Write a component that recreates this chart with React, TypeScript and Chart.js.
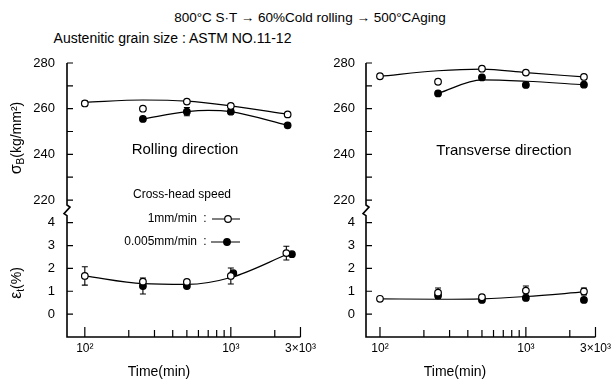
import React, { useEffect, useRef } from 'react';
import { Chart, registerables } from 'chart.js';

Chart.register(...registerables);

const FONT = '"Liberation Sans", Arial, sans-serif';

// ---- shared axis ticks ----
const strengthTicks = [220, 230, 240, 250, 260, 270, 280];
const strengthLabelled = [220, 240, 260, 280];
const elongTicks = [0, 1, 2, 3, 4];
const timeTicks = [100, 200, 300, 400, 500, 600, 700, 800, 900, 1000, 2000, 3000];
const timeTickLabels = ['10²', '', '', '', '', '', '', '', '', '10³', '', '3×10³'];

// ---- Rolling direction ----
const rdStrTimeOpen = [100, 250, 500, 1000, 2450];
const rdStrOpen = [262.3, 260.0, 263.1, 261.2, 257.5];
const rdStrOpenErr = [1.0, 0, 0, 0, 0];
const rdStrTimeFilled = [250, 500, 1000, 2450];
const rdStrFilled = [255.5, 258.7, 258.7, 252.7];
const rdStrFilledErr = [0, 1.8, 0, 0];
const rdStrFitOpenTime = [100, 250, 500, 1000, 2450];
const rdStrFitOpen = [262.8, 263.8, 263.3, 261.2, 257.6];
const rdStrFitFilledTime = [250, 500, 700, 1000, 2450];
const rdStrFitFilled = [255.5, 258.7, 259.3, 258.7, 252.7];
const rdElTimeOpen = [100, 250, 500, 1000, 2400];
const rdElOpen = [1.67, 1.42, 1.41, 1.67, 2.67];
const rdElOpenErr = [0.4, 0, 0, 0.35, 0.3];
const rdElTimeFilled = [250, 500, 1040, 2620];
const rdElFilled = [1.23, 1.23, 1.79, 2.62];
const rdElFilledErr = [0.35, 0, 0, 0];
const rdElFitTime = [100, 250, 500, 1000, 2500];
const rdElFit = [1.67, 1.33, 1.3, 1.6, 2.65];

// ---- Transverse direction ----
const tdTimeOpen = [100, 250, 500, 1000, 2500];
const tdTimeFilled = [250, 500, 1000, 2500];
const tdStrOpen = [274.2, 271.8, 277.5, 275.8, 273.9];
const tdStrOpenErr = [0, 0, 0, 0, 0];
const tdStrFilled = [266.7, 273.7, 270.4, 270.5];
const tdStrFilledErr = [0, 0, 0, 0];
const tdStrFitOpen = [274.2, 276.6, 277.3, 275.8, 273.9];
const tdStrFitFilled = [266.7, 272.6, 272.0, 270.5];
const tdElOpen = [0.67, 0.94, 0.74, 1.03, 0.99];
const tdElOpenErr = [0, 0.2, 0.08, 0.2, 0.15];
const tdElFilled = [0.81, 0.62, 0.71, 0.62];
const tdElFilledErr = [0.12, 0.08, 0.05, 0.1];
const tdElFit = [0.67, 0.65, 0.67, 0.77, 0.97];

const pts = (xs: number[], ys: number[]) => xs.map((x, i) => ({ x, y: ys[i] }));

type Panel = {
  key: string;
  canvasLeft: number;
  width: number;
  yW: number;
  padRight: number;
  xMin: number;
  labelPad: number;
  panelLabel: string;
  panelLabelX: number;
  panelLabelY: number;
  timeTitleX: number;
  showLegend: boolean;
  showYTitles: boolean;
  datasets: any[];
};

const fitDs = (label: string, xs: number[], ys: number[], axis: string) => ({
  label, data: pts(xs, ys), yAxisID: axis, showLine: true, pointRadius: 0,
  borderColor: '#000', borderWidth: 1.2, fill: false, cubicInterpolationMode: 'monotone', order: 2,
});
const ptDs = (label: string, xs: number[], ys: number[], errs: number[], axis: string, filled: boolean) => ({
  label, data: pts(xs, ys), yAxisID: axis, showLine: false, pointRadius: 3.3,
  pointBackgroundColor: filled ? '#000' : '#fff', pointBorderColor: '#000', pointBorderWidth: 1.2,
  borderColor: '#000', backgroundColor: filled ? '#000' : '#fff', errors: errs, order: filled ? 1 : 0,
});

const panels: Panel[] = [
  {
    key: 'rd', canvasLeft: 0, width: 320, yW: 67, padRight: 17, xMin: 75.5, labelPad: 12,
    panelLabel: 'Rolling direction', panelLabelX: 185, panelLabelY: 150, timeTitleX: 159,
    showLegend: true, showYTitles: true,
    datasets: [
      fitDs('1mm/min σB fit', rdStrFitOpenTime, rdStrFitOpen, 'yS'),
      fitDs('0.005mm/min σB fit', rdStrFitFilledTime, rdStrFitFilled, 'yS'),
      fitDs('εt fit', rdElFitTime, rdElFit, 'yE'),
      ptDs('1mm/min σB', rdStrTimeOpen, rdStrOpen, rdStrOpenErr, 'yS', false),
      ptDs('0.005mm/min σB', rdStrTimeFilled, rdStrFilled, rdStrFilledErr, 'yS', true),
      ptDs('1mm/min εt', rdElTimeOpen, rdElOpen, rdElOpenErr, 'yE', false),
      ptDs('0.005mm/min εt', rdElTimeFilled, rdElFilled, rdElFilledErr, 'yE', true),
    ],
  },
  {
    key: 'td', canvasLeft: 310, width: 305, yW: 56, padRight: 19, xMin: 80.2, labelPad: 11,
    panelLabel: 'Transverse direction', panelLabelX: 194, panelLabelY: 151, timeTitleX: 145,
    showLegend: false, showYTitles: false,
    datasets: [
      fitDs('1mm/min σB fit', tdTimeOpen, tdStrFitOpen, 'yS'),
      fitDs('0.005mm/min σB fit', tdTimeFilled, tdStrFitFilled, 'yS'),
      fitDs('εt fit', tdTimeOpen, tdElFit, 'yE'),
      ptDs('1mm/min σB', tdTimeOpen, tdStrOpen, tdStrOpenErr, 'yS', false),
      ptDs('0.005mm/min σB', tdTimeFilled, tdStrFilled, tdStrFilledErr, 'yS', true),
      ptDs('1mm/min εt', tdTimeOpen, tdElOpen, tdElOpenErr, 'yE', false),
      ptDs('0.005mm/min εt', tdTimeFilled, tdElFilled, tdElFilledErr, 'yE', true),
    ],
  },
];

function drawRotated(ctx: CanvasRenderingContext2D, parts: [string, number, number][], cx: number, cy: number) {
  ctx.save();
  ctx.translate(cx, cy);
  ctx.rotate(-Math.PI / 2);
  ctx.textBaseline = 'middle';
  ctx.textAlign = 'left';
  let total = 0;
  const widths = parts.map(([t, s]) => {
    ctx.font = `${s}px ${FONT}`;
    const w = ctx.measureText(t).width;
    total += w;
    return w;
  });
  let x = -total / 2;
  parts.forEach(([t, s, dy], i) => {
    ctx.font = `${s}px ${FONT}`;
    ctx.fillText(t, x, dy);
    x += widths[i];
  });
  ctx.restore();
}

function decor(p: Panel) {
  return {
    id: 'decor_' + p.key,
    beforeDatasetsDraw(chart: any) {
      const ctx = chart.ctx;
      ctx.save();
      ctx.strokeStyle = '#000';
      ctx.lineWidth = 1.1;
      chart.data.datasets.forEach((ds: any, i: number) => {
        if (!ds.errors) return;
        const meta = chart.getDatasetMeta(i);
        const ys = chart.scales[ds.yAxisID];
        ds.data.forEach((d: any, j: number) => {
          const e = ds.errors[j];
          if (!e) return;
          const px = meta.data[j].x;
          const hi = ys.getPixelForValue(d.y + e);
          const lo = ys.getPixelForValue(d.y - e);
          ctx.beginPath();
          ctx.moveTo(px, hi); ctx.lineTo(px, lo);
          ctx.moveTo(px - 3, hi); ctx.lineTo(px + 3, hi);
          ctx.moveTo(px - 3, lo); ctx.lineTo(px + 3, lo);
          ctx.stroke();
        });
      });
      ctx.restore();
    },
    afterDraw(chart: any) {
      const ctx = chart.ctx as CanvasRenderingContext2D;
      const yS = chart.scales.yS;
      const yE = chart.scales.yE;
      const xs = chart.scales.x;
      const L = chart.chartArea.left;
      const R = chart.chartArea.right;
      const B = chart.chartArea.bottom;
      ctx.save();
      ctx.strokeStyle = '#000';
      ctx.fillStyle = '#000';
      ctx.lineWidth = 1.6;
      const bTop = yS.getPixelForValue(220) + 5;
      const bBot = yE.getPixelForValue(4) - 7;
      ctx.beginPath();
      ctx.moveTo(L, chart.chartArea.top);
      ctx.lineTo(L, bTop);
      ctx.lineTo(L + 3, bTop + 2);
      ctx.lineTo(L - 3, bBot - 2);
      ctx.lineTo(L, bBot);
      ctx.lineTo(L, B);
      ctx.lineTo(R, B);
      ctx.stroke();
      ctx.lineWidth = 1.2;
      ctx.beginPath();
      strengthTicks.forEach((v) => {
        const py = yS.getPixelForValue(v);
        ctx.moveTo(L, py); ctx.lineTo(L + 6, py);
      });
      elongTicks.forEach((v) => {
        const py = yE.getPixelForValue(v);
        ctx.moveTo(L, py); ctx.lineTo(L + 6, py);
      });
      timeTicks.forEach((v, i) => {
        const px = xs.getPixelForValue(v);
        const len = timeTickLabels[i] ? 10 : 7;
        ctx.moveTo(px, B); ctx.lineTo(px, B - len);
      });
      ctx.stroke();

      ctx.textBaseline = 'middle';
      ctx.textAlign = 'center';
      ctx.font = `15px ${FONT}`;
      ctx.fillText(p.panelLabel, p.panelLabelX, p.panelLabelY);
      ctx.font = `14px ${FONT}`;
      ctx.fillText('Time(min)', p.timeTitleX, 372);

      if (p.showYTitles) {
        drawRotated(ctx, [['σ', 16, 0], ['B', 10, 4], ['(kg/mm²)', 14, 0]], 17, 138);
        drawRotated(ctx, [['ε', 16, 0], ['t', 10, 4], ['(%)', 14, 0]], 17, 283);
      }

      if (p.showLegend) {
        ctx.font = `12px ${FONT}`;
        ctx.textAlign = 'center';
        ctx.fillText('Cross-head speed', 182, 195);
        ctx.textAlign = 'right';
        ctx.fillText('1mm/min', 197, 219);
        ctx.fillText('0.005mm/min', 197, 242);
        ctx.textAlign = 'center';
        ctx.fillText(':', 205, 219);
        ctx.fillText(':', 205, 242);
        ctx.lineWidth = 1.2;
        ctx.beginPath();
        ctx.moveTo(212, 219); ctx.lineTo(240, 219);
        ctx.moveTo(211, 242); ctx.lineTo(240, 242);
        ctx.stroke();
        ctx.beginPath();
        ctx.arc(228, 219, 3.3, 0, Math.PI * 2);
        ctx.fillStyle = '#fff';
        ctx.fill();
        ctx.stroke();
        ctx.beginPath();
        ctx.arc(227, 242, 3.3, 0, Math.PI * 2);
        ctx.fillStyle = '#000';
        ctx.fill();
        ctx.stroke();
      }
      ctx.restore();
    },
  };
}

function PanelChart({ p }: { p: Panel }) {
  const ref = useRef<HTMLCanvasElement | null>(null);
  useEffect(() => {
    if (!ref.current) return;
    const tickFont = { family: FONT, size: 13 };
    const chart = new Chart(ref.current, {
      type: 'line',
      data: { datasets: p.datasets },
      options: {
        animation: false,
        responsive: false,
        devicePixelRatio: 1,
        layout: { padding: { left: 0, top: 63, right: p.padRight, bottom: 0 } },
        plugins: { legend: { display: false }, tooltip: { enabled: false }, title: { display: false } },
        scales: {
          x: {
            type: 'logarithmic',
            position: 'bottom',
            min: p.xMin,
            max: 3000,
            grid: { display: false, drawTicks: false },
            border: { display: false },
            afterBuildTicks: (s: any) => { s.ticks = timeTicks.map((v) => ({ value: v })); },
            afterFit: (s: any) => { s.height = 48; },
            ticks: {
              autoSkip: false, maxRotation: 0, minRotation: 0, padding: 4, color: '#000',
              font: { family: FONT, size: 12 },
              callback: (v: any) => {
                const i = timeTicks.indexOf(Number(v));
                return i >= 0 ? timeTickLabels[i] : '';
              },
            },
          },
          yS: {
            type: 'linear',
            position: 'left',
            stack: 'panel',
            stackWeight: 148,
            weight: 2,
            min: 215.2,
            max: 280,
            grid: { display: false, drawTicks: false },
            border: { display: false },
            afterBuildTicks: (s: any) => { s.ticks = strengthTicks.map((v) => ({ value: v })); },
            afterFit: (s: any) => { s.width = p.yW; },
            ticks: {
              autoSkip: false,
              padding: p.labelPad, color: '#000', font: tickFont,
              callback: (v: any) => (strengthLabelled.includes(Number(v)) ? String(v) : ''),
            },
          },
          yE: {
            type: 'linear',
            position: 'left',
            stack: 'panel',
            stackWeight: 126,
            weight: 1,
            min: -1,
            max: 4.51,
            grid: { display: false, drawTicks: false },
            border: { display: false },
            afterBuildTicks: (s: any) => { s.ticks = elongTicks.map((v) => ({ value: v })); },
            afterFit: (s: any) => { s.width = p.yW; },
            ticks: { autoSkip: false, padding: p.labelPad, color: '#000', font: tickFont, callback: (v: any) => String(v) },
          },
        },
      } as any,
      plugins: [decor(p)],
    });
    return () => chart.destroy();
  }, [p]);
  return (
    <canvas
      ref={ref}
      width={p.width}
      height={385}
      style={{ position: 'absolute', left: p.canvasLeft, top: 0, width: p.width, height: 385 }}
    />
  );
}

export default function App() {
  return (
    <div style={{ position: 'absolute', left: 0, top: 0, width: 615, height: 385, background: '#fff', overflow: 'hidden', fontFamily: FONT, color: '#000' }}>
      <div style={{ position: 'absolute', left: 160, top: 9, width: 300, textAlign: 'center', fontSize: 13.5, whiteSpace: 'nowrap', lineHeight: '18px' }}>
        800°C S·T → 60%Cold rolling → 500°CAging
      </div>
      <div style={{ position: 'absolute', left: 40, top: 29, width: 265, textAlign: 'center', fontSize: 14, whiteSpace: 'nowrap', lineHeight: '18px' }}>
        Austenitic grain size : ASTM NO.11-12
      </div>
      {panels.map((p) => (
        <PanelChart key={p.key} p={p} />
      ))}
    </div>
  );
}
